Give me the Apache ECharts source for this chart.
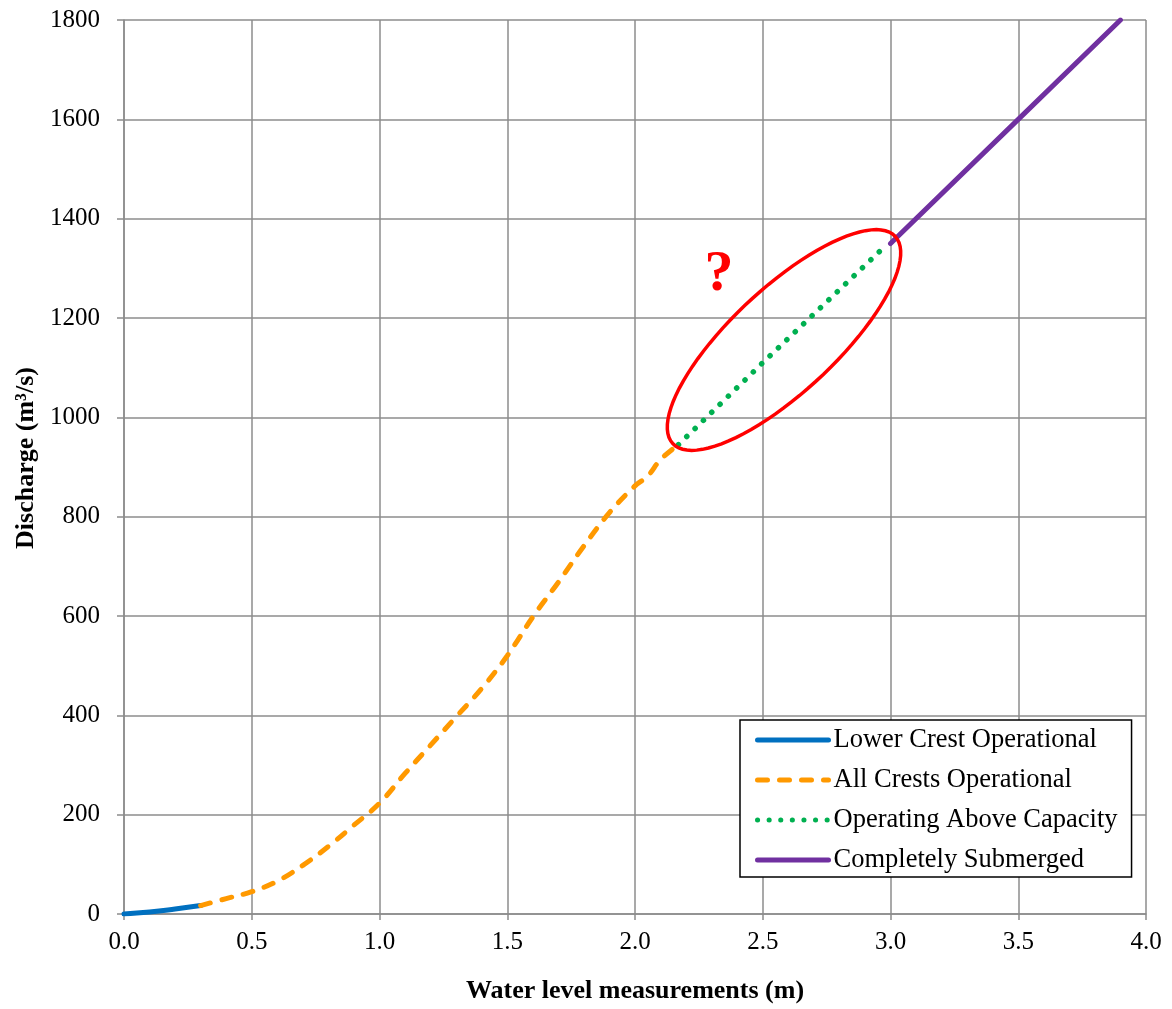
<!DOCTYPE html>
<html>
<head>
<meta charset="utf-8">
<title>Discharge rating curve</title>
<script src="https://cdn.jsdelivr.net/npm/echarts@6/dist/echarts.min.js"></script>
<style>
  html, body { margin: 0; padding: 0; background: #fff; }
  #chart { width: 1172px; height: 1009px; }
</style>
</head>
<body>
<div id="chart"></div>
<script>
// water level (m) / discharge (m3/s)
const lowerX = [0, 0.1, 0.2, 0.3];
const lowerY = [0, 4, 10, 17];
const allX = [0.3, 0.4, 0.5, 0.6, 0.7, 0.8, 0.9, 1.0, 1.1, 1.2, 1.3, 1.4, 1.5, 1.6, 1.7, 1.8, 1.9, 2.0, 2.05, 2.1, 2.17];
const allY = [17, 31, 45, 66, 98, 136, 179, 223, 283, 340, 397, 454, 520, 598, 668, 741, 808, 862, 882, 915, 945];
const aboveX = [2.17, 2.5, 2.98];
const aboveY = [945, 1110, 1345];
const subX = [3.0, 3.5, 3.9];
const subY = [1350, 1600, 1800];

const names = ["Lower Crest Operational", "All Crests Operational", "Operating Above Capacity", "Completely Submerged"];

const font = "Liberation Serif";
const gridColor = "#8c8c8c";

function pairs(xs, ys) {
  return xs.map((x, i) => [x, ys[i]]);
}

// red hand-drawn style ellipse round the "above capacity" part (pixels)
function ellipsePoints(cx, cy, a, b, ang) {
  const pts = [];
  for (let i = 0; i < 90; i++) {
    const t = (i / 90) * Math.PI * 2;
    const ex = a * Math.cos(t), ey = b * Math.sin(t);
    pts.push([cx + ex * Math.cos(ang) - ey * Math.sin(ang), cy - (ex * Math.sin(ang) + ey * Math.cos(ang))]);
  }
  return pts;
}

const chart = echarts.init(document.getElementById("chart"));

chart.setOption({
  animation: false,
  grid: { left: 124, right: 26, top: 20, bottom: 93 },
  xAxis: {
    type: "value",
    min: 0,
    max: 4,
    interval: 0.5,
    name: "Water level measurements (m)",
    nameLocation: "middle",
    nameGap: 64,
    nameTextStyle: { fontFamily: font, fontSize: 26, fontWeight: "bold", color: "#000" },
    axisLine: { lineStyle: { color: gridColor, width: 1.5 } },
    axisTick: { length: 6, lineStyle: { color: gridColor, width: 1.5 } },
    axisLabel: {
      margin: 16,
      fontFamily: font, fontSize: 25, color: "#000",
      formatter: (v) => v.toFixed(1)
    },
    splitLine: { lineStyle: { color: gridColor, width: 1.5 } }
  },
  yAxis: {
    type: "value",
    min: 0,
    max: 1800,
    interval: 200,
    axisLine: { show: true, lineStyle: { color: gridColor, width: 1.5 } },
    axisTick: { show: true, length: 7, lineStyle: { color: gridColor, width: 1.5 } },
    axisLabel: {
      margin: 24, fontFamily: font, fontSize: 25, color: "#000",
      formatter: (v) => String(v)
    },
    splitLine: { lineStyle: { color: gridColor, width: 1.5 } }
  },
  legend: {
    orient: "vertical",
    left: 740,
    top: 720,
    align: "left",
    backgroundColor: "#fff",
    borderColor: "#000",
    borderWidth: 1.5,
    borderRadius: 0,
    padding: [6, 14, 3, 15],
    itemWidth: 71,
    itemHeight: 10,
    itemGap: 12,
    itemStyle: { color: "rgba(0,0,0,0)", borderWidth: 0 },
    lineStyle: { width: 5, cap: "round" },
    textStyle: { fontFamily: font, fontSize: 26.5, color: "#000", lineHeight: 28 },
    data: names
  },
  series: [
    {
      name: names[0],
      type: "line",
      symbol: "none",
      smooth: true,
      data: pairs(lowerX, lowerY),
      lineStyle: { color: "#0070C0", width: 5, cap: "round" },
      itemStyle: { color: "#0070C0" },
      z: 3
    },
    {
      name: names[1],
      type: "line",
      symbol: "none",
      smooth: 0.4,
      data: pairs(allX, allY),
      lineStyle: { color: "#FF9900", width: 5, type: [10, 12], cap: "round" },
      itemStyle: { color: "#FF9900" },
      z: 3
    },
    {
      name: names[2],
      type: "line",
      symbol: "none",
      data: pairs(aboveX, aboveY),
      lineStyle: { color: "#00B050", width: 5.5, type: [0.1, 11.5], cap: "round" },
      itemStyle: { color: "#00B050" },
      z: 3
    },
    {
      name: names[3],
      type: "line",
      symbol: "none",
      data: pairs(subX, subY),
      lineStyle: { color: "#7030A0", width: 5, cap: "round" },
      itemStyle: { color: "#7030A0" },
      z: 3
    }
  ],
  graphic: [
    {
      // y axis title, placed like the original
      type: "text",
      x: 26,
      y: 458,
      rotation: Math.PI / 2,
      style: {
        text: "Discharge (m³/s)",
        fontFamily: font,
        fontSize: 26,
        fontWeight: "bold",
        fill: "#000",
        align: "center",
        verticalAlign: "middle"
      }
    },
    {
      type: "polygon",
      shape: { points: ellipsePoints(784, 340, 152, 52, 0.75) },
      style: { fill: "none", stroke: "#FF0000", lineWidth: 3.5 },
      z: 100
    },
    {
      type: "text",
      x: 719,
      y: 275,
      style: {
        text: "?",
        fontFamily: font,
        fontSize: 58,
        fontWeight: "bold",
        fill: "#FF0000",
        align: "center",
        verticalAlign: "middle"
      },
      z: 100
    }
  ]
});
</script>
</body>
</html>
